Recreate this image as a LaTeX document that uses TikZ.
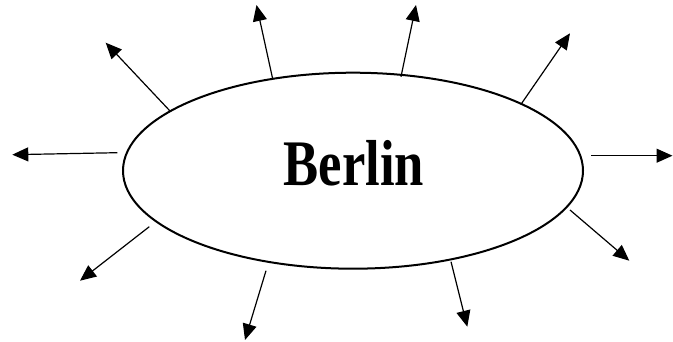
\documentclass[tikz,border=0pt]{standalone}
\usepackage{fontspec}
\setmainfont{Liberation Serif}
\usetikzlibrary{shapes.geometric,arrows.meta}
\tikzset{
  city/.style={ellipse, draw, line width=2pt, minimum width=460pt, minimum height=196pt, inner sep=0pt},
  ray/.style={line width=1.2pt, -{Triangle[length=16pt,width=14pt]}},
  citylabel/.style={anchor=base, inner sep=0pt, font=\fontsize{65}{65}\selectfont\bfseries}
}
\begin{document}
\begin{tikzpicture}[x=1pt,y=-1pt]
\useasboundingbox (0,0) rectangle (673,342);
\node[city] (B) at (353,170.7) {};
\node[citylabel] (T) at (353.7,186) {\scalebox{0.81}[1]{Berlin}};
% start points
\coordinate (s1) at (170,111);
\coordinate (s2) at (272.7,79);
\coordinate (s3) at (401,76.7);
\coordinate (s4) at (521,104.3);
\coordinate (s5) at (117.3,152.7);
\coordinate (s6) at (591,155.7);
\coordinate (s7) at (149.3,226.7);
\coordinate (s8) at (266,270.7);
\coordinate (s9) at (451,261.7);
\coordinate (s10) at (570,210);
% end points
\coordinate (t1) at (105.7,42.7);
\coordinate (t2) at (256.5,5);
\coordinate (t3) at (416,5);
\coordinate (t4) at (570,33.3);
\coordinate (t5) at (12.3,154.7);
\coordinate (t6) at (672.5,155.7);
\coordinate (t7) at (80,280.7);
\coordinate (t8) at (245,340);
\coordinate (t9) at (467.3,326.7);
\coordinate (t10) at (629.3,260.7);
\foreach \i in {1,...,10} {\draw[ray] (s\i) -- (t\i);}
\end{tikzpicture}
\end{document}
